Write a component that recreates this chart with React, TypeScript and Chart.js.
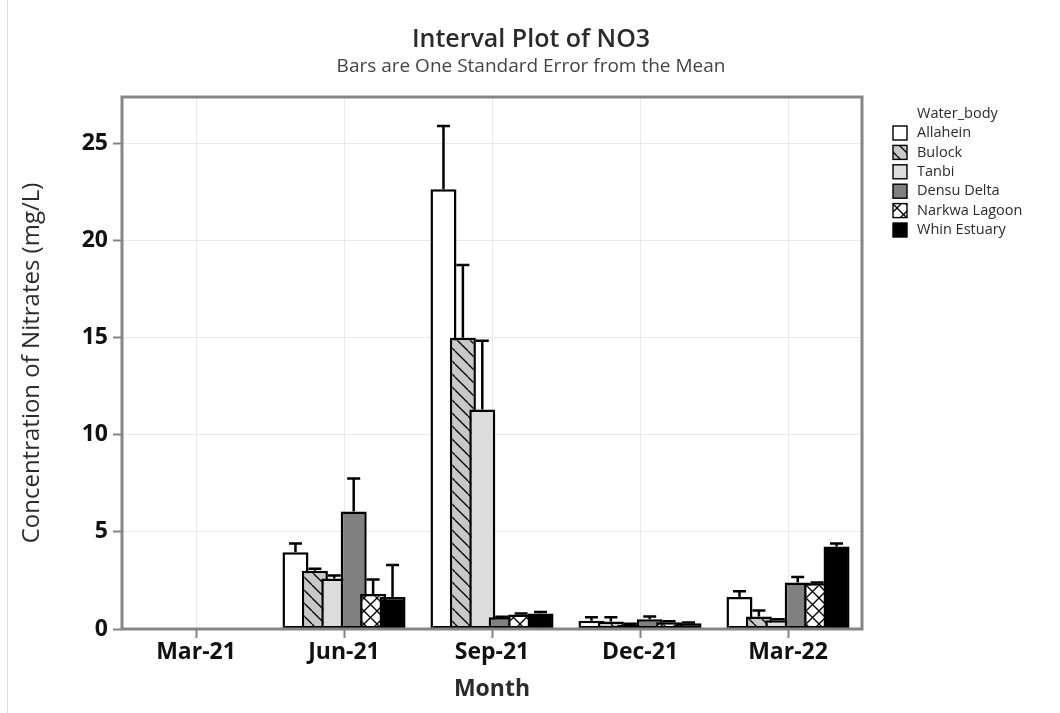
import React, { useEffect, useRef } from 'react';
import { Chart, registerables } from 'chart.js';

Chart.register(...registerables);

// Sampling months
const months = ['Mar-21', 'Jun-21', 'Sep-21', 'Dec-21', 'Mar-22'];

// Water bodies, in legend / cluster order
const waterBodies = ['Allahein', 'Bulock', 'Tanbi', 'Densu Delta', 'Narkwa Lagoon', 'Whin Estuary'];

// Mean NO3 (mg/L) per month, one array per water body
const allaheinMean = [null, 3.95, 22.65, 0.42, 1.65];
const bulockMean = [null, 3.0, 15.0, 0.38, 0.65];
const tanbiMean = [null, 2.6, 11.3, 0.22, 0.45];
const densuMean = [null, 6.05, 0.6, 0.5, 2.4];
const narkwaMean = [null, 1.8, 0.75, 0.35, 2.35];
const whinMean = [null, 1.65, 0.8, 0.3, 4.25];

// One standard error above the mean
const allaheinSE = [null, 0.45, 3.25, 0.18, 0.3];
const bulockSE = [null, 0.1, 3.75, 0.22, 0.3];
const tanbiSE = [null, 0.15, 3.55, 0.05, 0.05];
const densuSE = [null, 1.7, 0.03, 0.15, 0.28];
const narkwaSE = [null, 0.75, 0.05, 0.05, 0.05];
const whinSE = [null, 1.65, 0.08, 0.03, 0.15];

const yTickValues = [0, 5, 10, 15, 20, 25];

const FONT = "'Open Sans', 'Noto Sans', sans-serif";

type Fill = { bg: string; hatch: 'none' | 'back' | 'cross' };

const fills: Fill[] = [
  { bg: '#ffffff', hatch: 'none' },
  { bg: '#c8c8c8', hatch: 'back' },
  { bg: '#dcdcdc', hatch: 'none' },
  { bg: '#808080', hatch: 'none' },
  { bg: '#ffffff', hatch: 'cross' },
  { bg: '#000000', hatch: 'none' },
];

function makeFill(ctx: CanvasRenderingContext2D, f: Fill): string | CanvasPattern {
  if (f.hatch === 'none') return f.bg;
  const size = 13;
  const c = document.createElement('canvas');
  c.width = size;
  c.height = size;
  const g = c.getContext('2d')!;
  g.fillStyle = f.bg;
  g.fillRect(0, 0, size, size);
  g.strokeStyle = '#000';
  g.lineWidth = 1.3;
  for (let k = -1; k <= 1; k++) {
    g.beginPath();
    g.moveTo(k * size, 0);
    g.lineTo(k * size + size, size);
    g.stroke();
    if (f.hatch === 'cross') {
      g.beginPath();
      g.moveTo(k * size + size, 0);
      g.lineTo(k * size, size);
      g.stroke();
    }
  }
  return ctx.createPattern(c, 'repeat')!;
}

export default function App() {
  const canvasRef = useRef<HTMLCanvasElement | null>(null);

  useEffect(() => {
    document.body.style.margin = '0';
    const canvas = canvasRef.current!;
    const ctx = canvas.getContext('2d')!;
    const means = [allaheinMean, bulockMean, tanbiMean, densuMean, narkwaMean, whinMean];
    const errors = [allaheinSE, bulockSE, tanbiSE, densuSE, narkwaSE, whinSE];
    const bgs = fills.map((f) => makeFill(ctx, f));

    const datasets = waterBodies.map((name, i) => ({
      label: name,
      data: means[i],
      backgroundColor: bgs[i],
      borderColor: '#000',
      borderWidth: 2.5,
      borderSkipped: false as const,
      categoryPercentage: 0.787,
      barPercentage: 1.34,
    }));

    // Bars are drawn left to right so that each bar overlaps its left neighbour,
    // each followed by its one-sided standard-error whisker.
    const orderedBars = {
      id: 'orderedBars',
      beforeDatasetsDraw(chart: any) {
        const c = chart.ctx as CanvasRenderingContext2D;
        const yScale = chart.scales.y;
        chart.data.datasets.forEach((_ds: any, i: number) => {
          const meta = chart.getDatasetMeta(i);
          meta.controller.draw();
          c.save();
          c.strokeStyle = '#000';
          c.lineWidth = 2.5;
          meta.data.forEach((bar: any, j: number) => {
            const v = means[i][j];
            const e = errors[i][j];
            if (v == null || e == null) return;
            const yTop = yScale.getPixelForValue(v + e);
            const yBar = yScale.getPixelForValue(v);
            c.beginPath();
            c.moveTo(bar.x, yBar);
            c.lineTo(bar.x, yTop);
            c.moveTo(bar.x - 6.5, yTop);
            c.lineTo(bar.x + 6.5, yTop);
            c.stroke();
          });
          c.restore();
        });
        return false;
      },
      afterDraw(chart: any) {
        const c = chart.ctx as CanvasRenderingContext2D;
        const a = chart.chartArea;
        c.save();
        // faint page edge
        c.strokeStyle = '#dcdcdc';
        c.lineWidth = 1;
        c.beginPath();
        c.moveTo(7.5, 0);
        c.lineTo(7.5, 713);
        c.stroke();
        // plot frame
        c.strokeStyle = '#858585';
        c.lineWidth = 3;
        c.strokeRect(a.left, a.top, a.right - a.left, a.bottom - a.top);

        // titles
        c.textAlign = 'center';
        c.textBaseline = 'middle';
        c.fillStyle = '#2b2b2b';
        c.font = `600 25px ${FONT}`;
        c.fillText('Interval Plot of NO3', 531, 40);
        c.fillStyle = '#444444';
        c.font = `400 19px ${FONT}`;
        c.fillText('Bars are One Standard Error from the Mean', 531, 67);

        // axis titles
        c.fillStyle = '#2b2b2b';
        c.font = `700 23px ${FONT}`;
        c.fillText('Month', (a.left + a.right) / 2, 689);
        c.save();
        c.translate(32, (a.top + a.bottom) / 2);
        c.rotate(-Math.PI / 2);
        c.font = `400 24px ${FONT}`;
        c.fillText('Concentration of Nitrates (mg/L)', 0, 0);
        c.restore();

        // legend
        c.textAlign = 'left';
        c.font = `400 14.5px ${FONT}`;
        c.fillStyle = '#2b2b2b';
        c.fillText('Water_body', 917, 114);
        waterBodies.forEach((name, i) => {
          const cy = 133 + i * 19.4;
          c.fillStyle = bgs[i] as any;
          c.fillRect(893, cy - 7, 14, 14);
          c.strokeStyle = '#000';
          c.lineWidth = 1.4;
          c.strokeRect(893, cy - 7, 14, 14);
          c.fillStyle = '#2b2b2b';
          c.fillText(name, 917, cy);
        });
        c.restore();
      },
    };

    const chart = new Chart(canvas, {
      type: 'bar',
      data: { labels: months, datasets },
      options: {
        animation: false,
        responsive: false,
        layout: { padding: { left: 0, top: 97, right: 198, bottom: 0 } },
        plugins: { legend: { display: false }, tooltip: { enabled: false } },
        scales: {
          x: {
            offset: true,
            grid: {
              offset: false,
              color: '#e9e9e9',
              lineWidth: 1,
              tickColor: '#858585',
              tickWidth: 2,
              tickLength: 9,
            },
            border: { display: false },
            ticks: {
              color: '#111',
              font: { family: FONT, size: 23, weight: '700' as any },
              padding: 1,
            },
            afterFit: (s: any) => {
              s.height = 84;
            },
          },
          y: {
            min: 0,
            max: 27.4,
            afterBuildTicks: (s: any) => {
              s.ticks = yTickValues.map((v) => ({ value: v }));
            },
            grid: {
              color: '#e9e9e9',
              lineWidth: 1,
              tickColor: '#858585',
              tickWidth: 2,
              tickLength: 9,
            },
            border: { display: false },
            ticks: {
              color: '#111',
              font: { family: FONT, size: 23, weight: '700' as any },
              padding: 5,
            },
            afterFit: (s: any) => {
              s.width = 122;
            },
          },
        },
      },
      plugins: [orderedBars],
    });

    return () => chart.destroy();
  }, []);

  return <canvas ref={canvasRef} width={1060} height={713} style={{ display: 'block' }} />;
}
